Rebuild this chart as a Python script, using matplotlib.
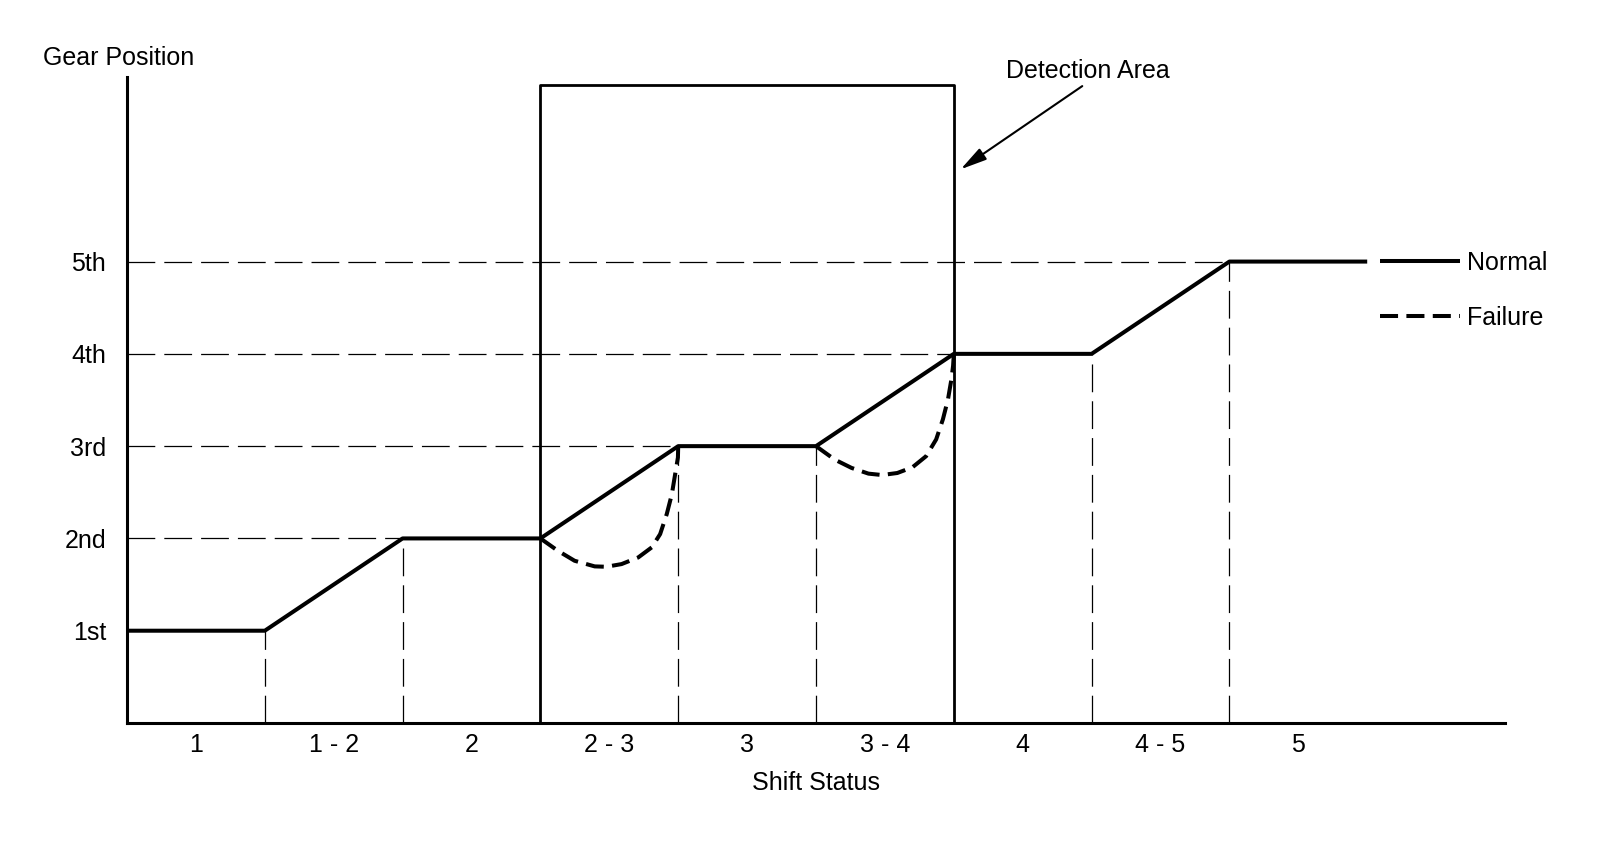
import matplotlib.pyplot as plt

plt.rcParams['font.family'] = ['Liberation Sans', 'DejaVu Sans']
plt.rcParams['lines.scale_dashes'] = False

# shift phases along the x axis and gear levels on the y axis
status_labels = ["1", "1 - 2", "2", "2 - 3", "3", "3 - 4", "4", "4 - 5", "5"]
gear_labels = ["1st", "2nd", "3rd", "4th", "5th"]

# normal gear position
normal_x = [0, 1, 2, 3, 4, 5, 6, 7, 8, 9]
normal_y = [1, 1, 2, 2, 3, 3, 4, 4, 5, 5]

# failure: gear position dips during the 2-3 and 3-4 shifts
fail_23_x = [3.0, 3.127, 3.248, 3.394, 3.479, 3.589, 3.710, 3.808, 3.869, 3.917, 3.954, 3.978, 3.998, 4.0]
fail_23_y = [2.0, 1.866, 1.758, 1.697, 1.693, 1.722, 1.794, 1.903, 2.047, 2.264, 2.480, 2.697, 2.877, 3.0]
fail_34_x = [5.0, 5.135, 5.258, 5.381, 5.479, 5.590, 5.700, 5.799, 5.872, 5.921, 5.958, 5.983, 5.995, 6.0]
fail_34_y = [3.0, 2.855, 2.764, 2.702, 2.687, 2.709, 2.771, 2.891, 3.073, 3.291, 3.509, 3.727, 3.873, 4.0]

detect_x = [3, 6]
detect_top = 6.91

fig = plt.figure(figsize=(16, 8.42), dpi=100)
ax = fig.add_axes([127/1600, 119/842, 1378/1600, 646/842])
ax.set_xlim(0, 10)
ax.set_ylim(0, 7)

thin = dict(color='black', lw=0.9, ls=(0, (20, 6.5)))

# dashed guides: horizontal to where each gear is reached, vertical under each corner
for lvl in range(2, 6):
    x_reach = normal_x[normal_y.index(lvl)]
    ax.plot([0, x_reach], [lvl, lvl], **thin)
for x, y in zip(normal_x[1:-1], normal_y[1:-1]):
    if x not in detect_x:
        ax.plot([x, x], [0, y], **thin)

# detection area box
ax.plot([detect_x[0], detect_x[0], detect_x[1], detect_x[1]],
        [0, detect_top, detect_top, 0], color='black', lw=2.0)

fail_ls = (0, (13, 6))
ax.plot(normal_x, normal_y, color='black', lw=2.9, label='Normal', solid_capstyle='butt')
ax.plot(fail_23_x, fail_23_y, color='black', lw=2.9, ls=fail_ls, label='Failure')
ax.plot(fail_34_x, fail_34_y, color='black', lw=2.9, ls=fail_ls)

ax.legend(loc='center left', bbox_to_anchor=(0.909, 0.670), frameon=False,
          fontsize=18, handlelength=3.2, handletextpad=0.3, labelspacing=1.25,
          borderpad=0, borderaxespad=0)

ax.annotate('Detection Area', xy=(6.05, 6.0), xytext=(6.97, 7.07),
            ha='center', va='center', fontsize=18, annotation_clip=False,
            arrowprops=dict(arrowstyle='-|>,head_length=0.8,head_width=0.2',
                            mutation_scale=20, color='black', lw=1.5,
                            shrinkA=1, shrinkB=0, relpos=(0.5, 0)))

ax.text(-0.061, 1.029, 'Gear Position', transform=ax.transAxes,
        ha='left', va='center', fontsize=18)

ax.set_xticks([i + 0.5 for i in range(len(status_labels))])
ax.set_xticklabels(status_labels)
ax.set_yticks(range(1, len(gear_labels) + 1))
ax.set_yticklabels(gear_labels)
ax.tick_params(axis='x', length=0, pad=7, labelsize=18)
ax.tick_params(axis='y', length=0, pad=15, labelsize=18)
ax.set_xlabel('Shift Status', fontsize=18, labelpad=10)

for side in ['top', 'right']:
    ax.spines[side].set_visible(False)
for side in ['left', 'bottom']:
    ax.spines[side].set_linewidth(2.2)

fig.savefig('out.png', dpi=100)
